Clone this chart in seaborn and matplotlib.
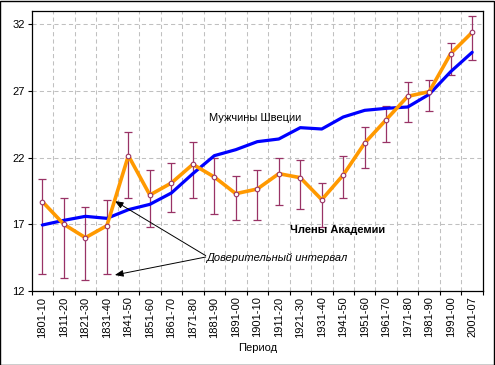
import matplotlib
matplotlib.use("Agg")
import matplotlib.pyplot as plt
import seaborn as sns
import pandas as pd
from matplotlib.patches import Rectangle

periods = ["1801-10", "1811-20", "1821-30", "1831-40", "1841-50", "1851-60",
           "1861-70", "1871-80", "1881-90", "1891-00", "1901-10", "1911-20",
           "1921-30", "1931-40", "1941-50", "1951-60", "1961-70", "1971-80",
           "1981-90", "1991-00", "2001-07"]

# Члены Академии (orange) and its confidence interval
academy = [18.7, 17.0, 16.0, 16.9, 22.15, 19.2, 20.1, 21.5, 20.55, 19.3, 19.65,
           20.8, 20.5, 18.85, 20.7, 23.1, 24.85, 26.6, 26.95, 29.8, 31.4]
ci_low = [13.3, 13.0, 12.8, 13.25, 19.0, 16.8, 17.9, 19.0, 17.75, 17.3, 17.3,
          18.45, 18.15, 16.8, 18.95, 21.2, 23.2, 24.65, 25.5, 28.2, 29.3]
ci_high = [20.4, 19.0, 18.3, 18.8, 23.95, 21.05, 21.6, 23.15, 22.0, 20.6, 21.1,
           21.95, 21.8, 20.1, 22.1, 24.3, 25.9, 27.7, 27.85, 30.6, 32.6]

# Мужчины Швеции (blue)
sweden = [16.95, 17.3, 17.6, 17.45, 18.1, 18.5, 19.35, 20.8, 22.15, 22.6, 23.2,
          23.4, 24.25, 24.15, 25.05, 25.55, 25.7, 25.8, 26.75, 28.45, 29.9]

df = pd.DataFrame({"Период": periods, "academy": academy, "sweden": sweden,
                   "low": ci_low, "high": ci_high})
df["pos"] = range(len(df))

sns.set_style("white")
plt.rcParams["font.family"] = ["Liberation Sans", "DejaVu Sans"]
plt.rcParams.update({"text.color": "black", "axes.labelcolor": "black",
                     "xtick.color": "black", "ytick.color": "black"})

fig = plt.figure(figsize=(4.95, 3.65), dpi=100)
ax = fig.add_axes([0.064, 0.2027, 0.9116, 0.7672])

sns.lineplot(data=df, x="pos", y="sweden", color="#0000FF", linewidth=2.3, ax=ax, zorder=3)

err = [df["academy"] - df["low"], df["high"] - df["academy"]]
ax.errorbar(df["pos"], df["academy"], yerr=err, fmt="none", ecolor="#993366",
            elinewidth=0.9, capsize=3, capthick=0.9, zorder=2)
sns.lineplot(data=df, x="pos", y="academy", color="#FF9900", linewidth=2.6,
             marker="o", markersize=3.3, markerfacecolor="white",
             markeredgecolor="#993366", markeredgewidth=0.8, ax=ax, zorder=4)

ax.set_xlim(-0.5, len(periods) - 0.5)
ax.set_ylim(12, 33)
ax.set_yticks([12, 17, 22, 27, 32])
ax.set_xticks(range(len(periods)))
ax.set_xticklabels(periods, rotation=90, fontsize=8)
ax.set_xticks([i + 0.5 for i in range(-1, len(periods))], minor=True)
ax.tick_params(axis="x", which="major", length=0, pad=4)
ax.tick_params(axis="x", which="minor", length=3, width=0.8, direction="out", bottom=True)
ax.tick_params(axis="y", length=3, width=0.8, direction="out", left=True, labelsize=8, pad=2)

grid_style = dict(color="#C0C0C0", linestyle=(0, (4, 3)), linewidth=0.75)
ax.grid(False)
ax.yaxis.grid(True, **grid_style)
for i in range(len(periods) - 1):
    ax.axvline(i + 0.5, zorder=0, **grid_style)
ax.set_axisbelow(True)

for s in ax.spines.values():
    s.set_color("black")
    s.set_linewidth(0.9)

ax.set_xlabel("Период", fontsize=8, labelpad=4)
ax.set_ylabel("")

ax.text(7.74, 24.98, "Мужчины Швеции", fontsize=8, va="center", ha="left")
ax.text(11.5, 16.58, "Члены Академии", fontsize=8, fontweight="bold", va="center", ha="left")
ax.text(7.63, 14.5, "Доверительный интервал", fontsize=8, style="italic", va="center", ha="left")

arrow = dict(arrowstyle="-|>,head_length=0.5,head_width=0.2", color="black",
             linewidth=0.7, shrinkA=0, shrinkB=0)
ax.annotate("", xy=(3.37, 18.75), xytext=(7.6, 14.65), arrowprops=arrow)
ax.annotate("", xy=(3.37, 13.2), xytext=(7.6, 14.55), arrowprops=arrow)

fig.patches.append(Rectangle((0.001, 0.001), 0.996, 0.996, transform=fig.transFigure,
                             fill=False, edgecolor="black", linewidth=1))

fig.savefig("out.png", dpi=100)
